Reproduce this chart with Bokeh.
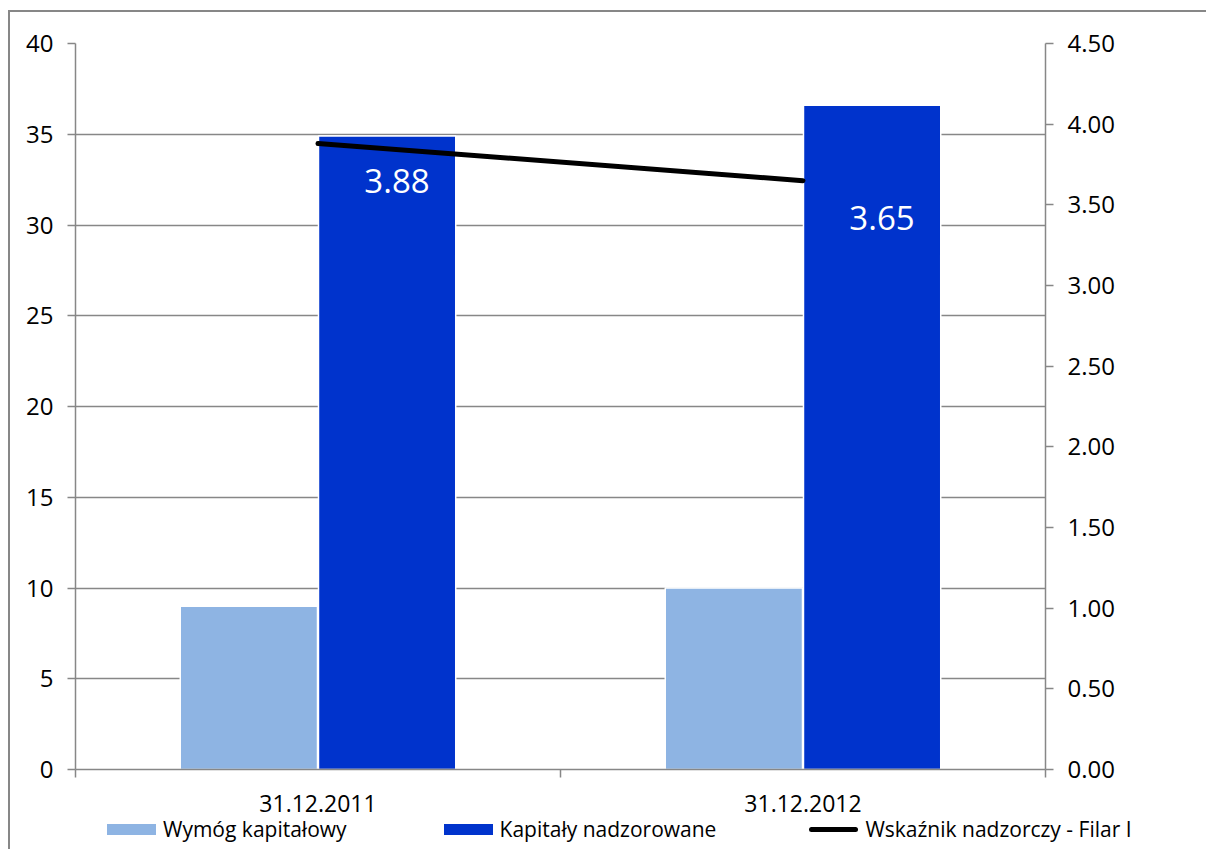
import numpy as np
from bokeh.plotting import figure
from bokeh.layouts import column
from bokeh.models import (Range1d, LinearAxis, FixedTicker,
                          NumeralTickFormatter, ColumnDataSource, Div)
from bokeh.core.properties import value
from bokeh.embed import file_html
from bokeh.resources import INLINE

# ---- data ----
categories = ["31.12.2011", "31.12.2012"]
wymog = [9.0, 10.0]            # Wymóg kapitałowy (left axis)
kapitaly = [34.9, 36.6]        # Kapitały nadzorowane (left axis)
wskaznik = [3.88, 3.65]        # Wskaźnik nadzorczy - Filar I (right axis)
left_ticks = [0, 5, 10, 15, 20, 25, 30, 35, 40]
right_ticks = [0.0, 0.5, 1.0, 1.5, 2.0, 2.5, 3.0, 3.5, 4.0, 4.5]
series_names = ["Wymóg kapitałowy", "Kapitały nadzorowane", "Wskaźnik nadzorczy - Filar I"]

FONT = "Open Sans"
GRID = "#878787"
LIGHT = "#8EB4E3"
DARK = "#0033CC"

n = len(categories)
idx = np.arange(n)
centers = idx + 0.5
bar_w = 0.283
off = 0.1425

W = 1196
p = figure(width=W, height=806, output_backend="svg", toolbar_location=None,
           x_range=Range1d(0, n), y_range=Range1d(0, 40),
           min_border_left=65, min_border_right=161, min_border_top=31, min_border_bottom=49,
           x_axis_location=None, y_axis_location=None)
p.extra_y_ranges = {"right": Range1d(0, 4.5)}
p.outline_line_color = None
p.background_fill_color = "white"
p.border_fill_color = "white"

# left axis
yl = LinearAxis(ticker=FixedTicker(ticks=left_ticks))
yl.axis_line_color = GRID
yl.axis_line_width = 1.5
yl.major_tick_line_color = GRID
yl.major_tick_line_width = 1.5
yl.major_tick_out = 8
yl.major_tick_in = 0
yl.minor_tick_line_color = None
yl.major_label_text_font = FONT
yl.major_label_text_font_size = "24px"
yl.major_label_text_color = "black"
yl.major_label_standoff = 14
p.add_layout(yl, "left")

# right axis
yr = LinearAxis(y_range_name="right", ticker=FixedTicker(ticks=right_ticks),
                formatter=NumeralTickFormatter(format="0.00"))
yr.axis_line_color = GRID
yr.axis_line_width = 1.5
yr.major_tick_line_color = GRID
yr.major_tick_line_width = 1.5
yr.major_tick_out = 8
yr.major_tick_in = 0
yr.minor_tick_line_color = None
yr.major_label_text_font = FONT
yr.major_label_text_font_size = "24px"
yr.major_label_text_color = "black"
yr.major_label_standoff = 14
p.add_layout(yr, "right")

# bottom category axis: labels at centers, boundary ticks as minor ticks
xb = LinearAxis(ticker=FixedTicker(ticks=list(centers), minor_ticks=list(range(n + 1))))
xb.major_label_overrides = {float(c): cat for c, cat in zip(centers, categories)}
xb.axis_line_color = GRID
xb.axis_line_width = 1.5
xb.major_tick_line_color = None
xb.major_tick_out = 0
xb.major_tick_in = 0
xb.minor_tick_line_color = GRID
xb.minor_tick_line_width = 1.5
xb.minor_tick_out = 8
xb.minor_tick_in = 0
xb.major_label_text_font = FONT
xb.major_label_text_font_size = "23px"
xb.major_label_text_color = "black"
xb.major_label_standoff = 17
p.add_layout(xb, "below")

# grid (left axis ticks)
p.ygrid.ticker = FixedTicker(ticks=left_ticks)
p.ygrid.grid_line_color = GRID
p.ygrid.grid_line_width = 1.5
p.xgrid.grid_line_color = None

src = ColumnDataSource(dict(xl=centers - off, xd=centers + off, xc=centers,
                            wymog=wymog, kap=kapitaly, wsk=wskaznik,
                            lab=[f"{v:.2f}" for v in wskaznik]))

p.vbar(x="xl", top="wymog", width=bar_w, source=src, fill_color=LIGHT,
       line_color="white", line_width=1.5)
p.vbar(x="xd", top="kap", width=bar_w, source=src, fill_color=DARK,
       line_color="white", line_width=1.5)
p.line(x="xc", y="wsk", source=src, y_range_name="right", line_color="black",
       line_width=5, line_cap="round")
p.text(x="xc", y="wsk", text="lab", source=src, y_range_name="right",
       x_offset=79, y_offset=37, text_align="center", text_baseline="middle",
       text_color="white", text_font=value(FONT), text_font_size="33px")

# legend row (HTML text below the chart)
swatches = [(LIGHT, 11, 0), (DARK, 11, 0), ("#000000", 5, 3)]
gaps = [97, 93, 0]
parts = []
for name, (col, h, rad), gap in zip(series_names, swatches, gaps):
    parts.append(
        f"<span style='display:inline-block;width:49px;height:{h}px;background:{col};"
        f"border-radius:{rad}px;margin-right:7px;flex:none'></span>"
        f"<span style='margin-right:{gap}px;flex:none'>{name}</span>")
html = ("<div style=\"display:flex;align-items:center;height:22px;padding-left:97px;"
        "font-family:'Open Sans';font-size:21px;line-height:22px;color:#000;white-space:nowrap\">"
        + "".join(parts) + "</div>")
leg = Div(text=html, width=W, height=31, margin=0,
          styles={"overflow": "visible"})

layout = column(p, leg, spacing=0,
                styles={"border-left": "2px solid #878787", "border-top": "2px solid #878787",
                        "margin-left": "8px", "margin-top": "10px"})

open("out.html", "w").write(file_html(layout, INLINE))
